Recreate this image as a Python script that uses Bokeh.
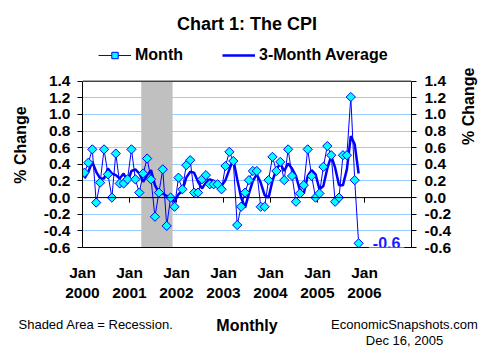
import numpy as np
from bokeh.plotting import figure
from bokeh.models import (Range1d, LinearAxis, FixedTicker, Span, Label, Legend,
                          LegendItem, PrintfTickFormatter, Title)
from bokeh.embed import file_html
from bokeh.resources import INLINE

# ---------------- data ----------------
start_year = 2000
month_change = [
    0.30, 0.42, 0.58, -0.06, 0.18, 0.58, 0.28, 0.00, 0.53, 0.17, 0.17, 0.22,   # 2000
    0.58, 0.22, 0.06, 0.29, 0.47, 0.22, -0.23, 0.06, 0.34, -0.34, 0.00, -0.11,  # 2001
    0.24, 0.10, 0.39, 0.45, 0.06, 0.06, 0.22, 0.27, 0.16, 0.16, 0.16, 0.10,    # 2002
    0.38, 0.55, 0.44, -0.33, -0.11, 0.06, 0.21, 0.32, 0.32, -0.11, -0.11, 0.21,  # 2003
    0.49, 0.32, 0.43, 0.21, 0.58, 0.26, -0.05, 0.05, 0.15, 0.58, 0.26, 0.00,   # 2004
    0.05, 0.37, 0.62, 0.51, -0.05, 0.00, 0.51, 0.51, 1.21, 0.21, -0.55,        # 2005
]
avg_3month = [
    0.23, 0.31, 0.43, 0.31, 0.23, 0.23, 0.35, 0.29, 0.27, 0.23, 0.29, 0.19,    # 2000
    0.32, 0.34, 0.29, 0.19, 0.27, 0.33, 0.15, 0.06, 0.05, 0.02, 0.00, -0.05,   # 2001
    0.04, 0.08, 0.24, 0.31, 0.30, 0.19, 0.11, 0.18, 0.22, 0.20, 0.16, 0.14,    # 2002
    0.21, 0.34, 0.46, 0.22, 0.00, -0.12, 0.05, 0.20, 0.28, 0.18, 0.03, 0.00,   # 2003
    0.20, 0.34, 0.41, 0.32, 0.41, 0.35, 0.26, 0.09, 0.05, 0.26, 0.33, 0.28,    # 2004
    0.10, 0.14, 0.35, 0.50, 0.36, 0.15, 0.15, 0.34, 0.74, 0.64, 0.29,          # 2005
]
recession = ("2001-04", "2001-11")          # shaded months
x_tick_years = [2000, 2001, 2002, 2003, 2004, 2005, 2006]
x_end_year = 2007
y_ticks = [-0.6, -0.4, -0.2, 0.0, 0.2, 0.4, 0.6, 0.8, 1.0, 1.2, 1.4]
footer_left = "Shaded Area = Recession."
footer_center = "Monthly"
footer_right = "EconomicSnapshots.com\nDec 16, 2005"

# ---------------- helpers ----------------
def month_index(s):
    y, m = map(int, s.split("-"))
    return (y - start_year) * 12 + (m - 1)

n_months = (x_end_year - start_year) * 12
xs = np.arange(len(month_change)) + 0.5
x_ticks = [(y - start_year) * 12 for y in x_tick_years]
y_lo, y_hi = y_ticks[0], y_ticks[-1]

FONT = "Liberation Sans"
BLUE = "#0000ff"

# frame extends above the plotted box to hold the legend
p = figure(width=491, height=358, output_backend="svg", toolbar_location=None,
           x_range=Range1d(0, n_months),
           y_range=Range1d(y_lo, 1.865),
           min_border_left=82, min_border_right=80, min_border_top=42,
           min_border_bottom=111, background_fill_color="white",
           border_fill_color="white")
p.title.text = ""
p.outline_line_color = None

def bare_x(ax, standoff, size="15.5px", bold=True):
    ax.axis_line_color = None
    ax.major_tick_line_color = None
    ax.minor_tick_line_color = None
    ax.major_tick_out = 0
    ax.major_tick_in = 0
    ax.major_label_standoff = standoff
    ax.major_label_text_font = FONT
    ax.major_label_text_font_style = "bold" if bold else "normal"
    ax.major_label_text_font_size = size
    ax.major_label_text_color = "black"

# x axis row 1: "Jan" (its axis line is the bottom border of the box)
xa = p.xaxis[0]
xa.ticker = FixedTicker(ticks=x_ticks)
xa.major_label_overrides = {t: "Jan" for t in x_ticks}
bare_x(xa, 16)
xa.axis_line_color = "black"

# x axis row 2: years
xb = LinearAxis(ticker=FixedTicker(ticks=x_ticks),
                major_label_overrides={t: str(y) for t, y in zip(x_ticks, x_tick_years)})
bare_x(xb, 4)
p.add_layout(xb, "below")

# footer row (as an extra axis below the chart)
foot_l_x = 3.45
foot_r_x = 82.2
xc = LinearAxis(ticker=FixedTicker(ticks=[foot_l_x, foot_r_x]),
                major_label_overrides={foot_l_x: footer_left, foot_r_x: footer_right})
bare_x(xc, 16, size="13px", bold=False)
xc.major_label_text_line_height = 1.12
xc.axis_label = footer_center
xc.axis_label_text_font = FONT
xc.axis_label_text_font_style = "bold"
xc.axis_label_text_font_size = "16px"
xc.axis_label_text_color = "black"
xc.axis_label_standoff = -34
p.add_layout(xc, "below")

# y axes
def style_y(ax, standoff, label_standoff):
    ax.ticker = FixedTicker(ticks=y_ticks)
    ax.bounds = (y_lo, y_hi)
    ax.formatter = PrintfTickFormatter(format="%.1f")
    ax.major_tick_out = 5
    ax.major_tick_in = 0
    ax.minor_tick_line_color = None
    ax.axis_line_color = "black"
    ax.major_tick_line_color = "black"
    ax.major_label_standoff = standoff
    ax.major_label_text_font = FONT
    ax.major_label_text_font_style = "bold"
    ax.major_label_text_font_size = "15.5px"
    ax.major_label_text_color = "black"
    ax.axis_label = "% Change"
    ax.axis_label_standoff = label_standoff
    ax.axis_label_text_font = FONT
    ax.axis_label_text_font_style = "bold"
    ax.axis_label_text_font_size = "16px"
    ax.axis_label_text_color = "black"

style_y(p.yaxis[0], 7, 12)
ra = LinearAxis()
style_y(ra, 8, 14)
try:
    ra.axis_label_orientation = np.pi / 2
except Exception:
    pass
p.add_layout(ra, "right")

p.xgrid.visible = False
p.ygrid.ticker = FixedTicker(ticks=y_ticks)
p.ygrid.grid_line_color = "#99ccff"
p.ygrid.grid_line_width = 1

# recession shading
r0 = month_index(recession[0])
r1 = month_index(recession[1]) + 1
p.quad(left=[r0], right=[r1], bottom=[y_lo], top=[y_hi],
       fill_color="#c0c0c0", line_color=None)

# top border of the box, zero line and year ticks on it
p.add_layout(Span(location=y_hi, dimension="width", line_color="black", line_width=1))
p.add_layout(Span(location=0, dimension="width", line_color="black", line_width=1))
p.segment(x0=x_ticks[1:], y0=0, x1=x_ticks[1:], y1=-0.06, line_color="black", line_width=1)

# series
r_mline = p.line(xs, month_change, line_color=BLUE, line_width=1)
r_avg = p.line(xs, avg_3month, line_color=BLUE, line_width=2.5)
r_mpts = p.scatter(xs, month_change, marker="square", angle=np.pi / 4, size=6.5,
                   fill_color="#00ffff", line_color=BLUE, line_width=1)

# last value label
last = month_change[-1]
p.add_layout(Label(x=xs[-1] + 2.6, y=last, text=f"{last:.1f}", text_align="left",
                   text_baseline="middle", text_font=FONT, text_font_style="bold",
                   text_font_size="16px", text_color="#1a1aff",
                   background_fill_color="white", padding=4))

legend = Legend(items=[LegendItem(label="Month", renderers=[r_mline, r_mpts]),
                       LegendItem(label="3-Month Average", renderers=[r_avg])],
                orientation="horizontal", location=(16, 183),
                border_line_color=None, background_fill_alpha=0,
                padding=0, margin=0, spacing=39, glyph_width=33, glyph_height=16,
                label_standoff=4, label_height=16,
                label_text_font=FONT, label_text_font_style="bold",
                label_text_font_size="16px", label_text_color="black")
p.add_layout(legend)

p.add_layout(Title(text="Chart 1: The CPI", align="center", vertical_align="bottom",
                   standoff=18, text_font=FONT, text_font_style="bold",
                   text_font_size="18px", text_color="black"), "above")

open("out.html", "w").write(file_html(p, INLINE))
